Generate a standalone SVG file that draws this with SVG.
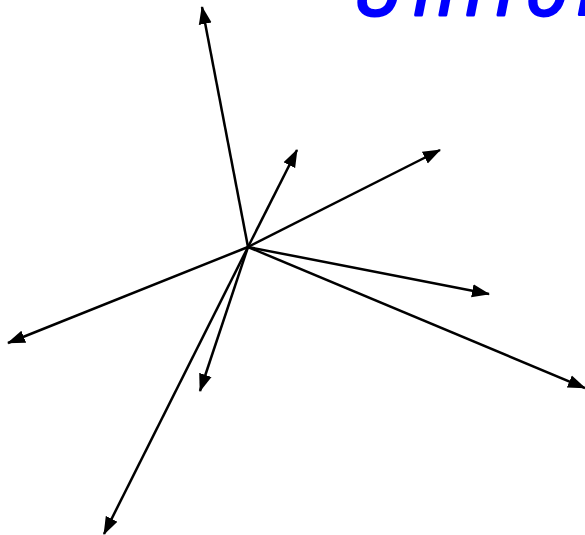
<svg xmlns="http://www.w3.org/2000/svg" width="585" height="535" viewBox="0 0 585 535">
<style>
.c line{stroke:#000;stroke-width:2.5;marker-end:url(#ah)}
.t{font-family:"DejaVu Sans",sans-serif;font-style:italic;font-size:66px;letter-spacing:10px;fill:#0000ff;stroke:#0000ff;stroke-width:3;stroke-linejoin:round}
</style>
<defs>
<marker id="ah" markerUnits="userSpaceOnUse" markerWidth="18" markerHeight="14" refX="17" refY="6.5" orient="auto" viewBox="0 0 18 13">
<path d="M0,0 L18,6.5 L0,13 z" fill="#000"/>
</marker>
</defs>
<rect width="585" height="535" fill="#fff"/>
<g id="title"><text class="t" x="355" y="15">Uniform</text></g>
<g id="connectors" class="c">
<line x1="248" y1="247" x2="202" y2="7"/>
<line x1="248" y1="247" x2="297" y2="150"/>
<line x1="248" y1="247" x2="440" y2="150"/>
<line x1="248" y1="247" x2="489" y2="294"/>
<line x1="248" y1="247" x2="585" y2="388"/>
<line x1="248" y1="247" x2="8" y2="343"/>
<line x1="248" y1="247" x2="200" y2="391"/>
<line x1="248" y1="247" x2="104" y2="534"/>
</g>
</svg>
